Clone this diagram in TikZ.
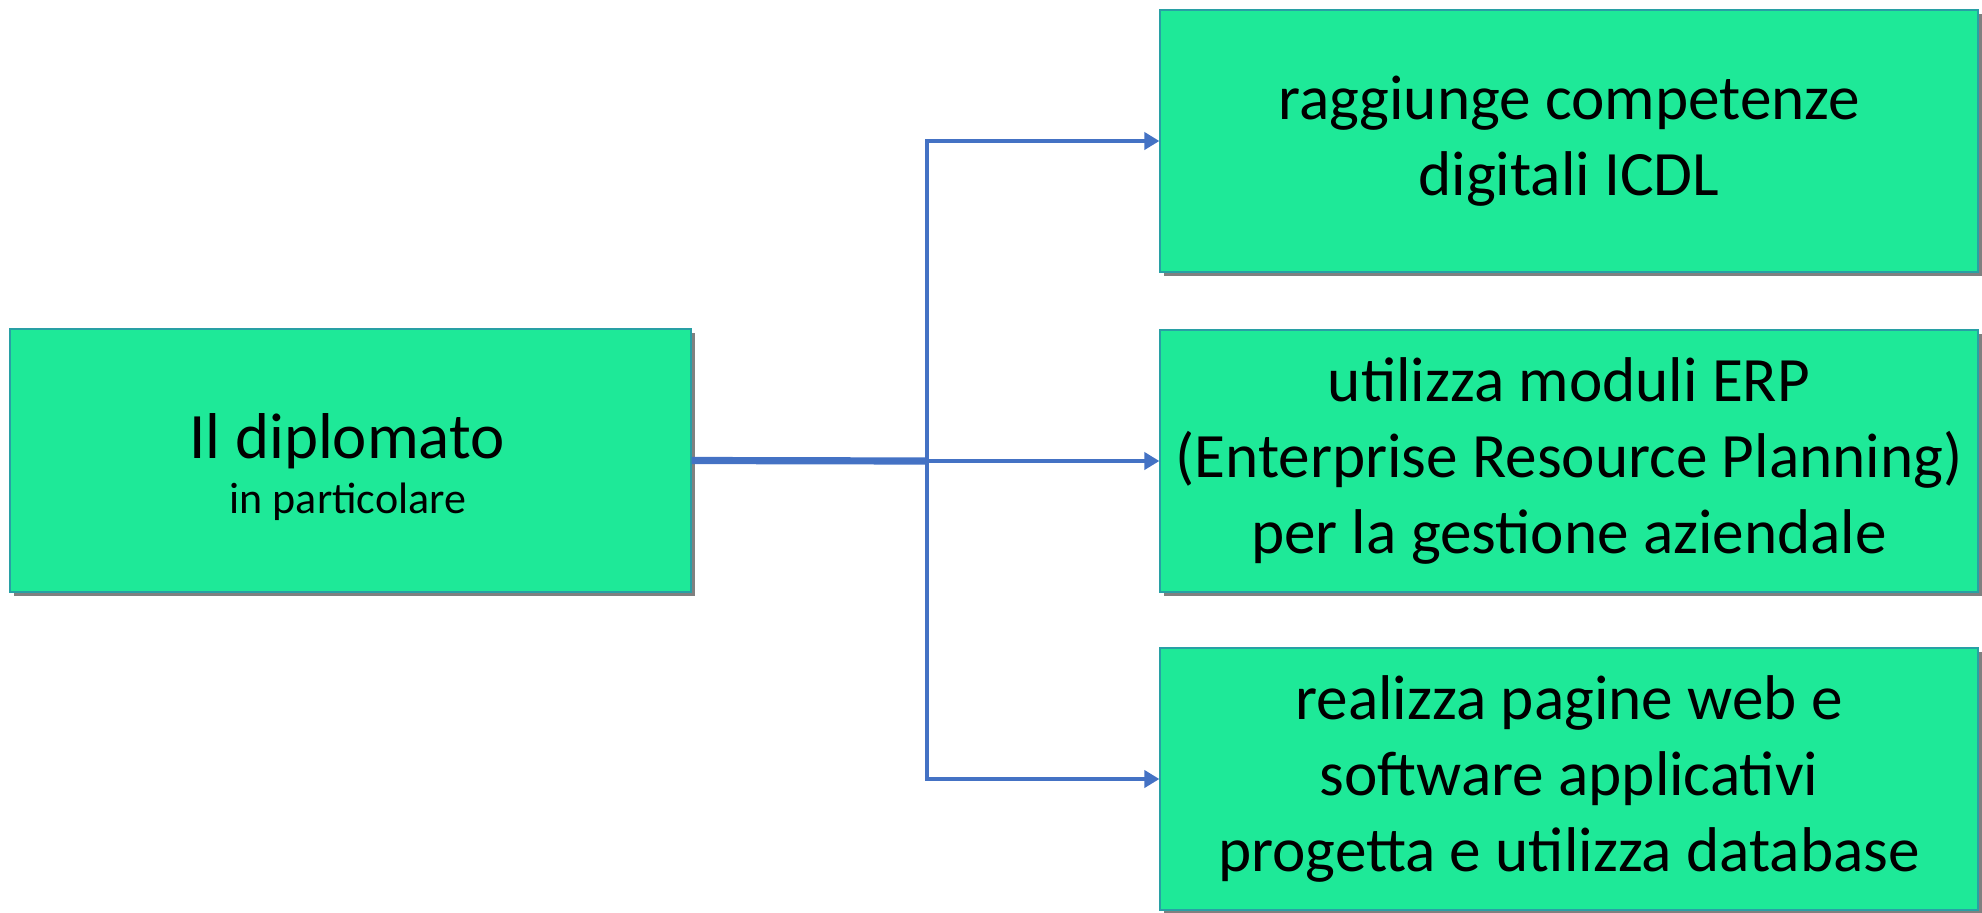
\documentclass[tikz,border=0pt]{standalone}
\usepackage{fontspec}
\setmainfont{Carlito}
\usetikzlibrary{arrows.meta}
\definecolor{boxgreen}{RGB}{30,233,152}
\definecolor{boxedge}{RGB}{40,160,165}
\definecolor{linkblue}{RGB}{68,114,196}
\tikzset{
  greenbox/.style={rectangle, fill=boxgreen, draw=boxedge, line width=0.6pt, inner sep=0pt, align=center,
    font=\fontsize{31.6}{38}\selectfont},
  shadowbox/.style={rectangle, fill=black!50, draw=none, inner sep=0pt},
  conn/.style={draw=linkblue, line width=2.2pt, line join=miter, -{Triangle[length=7.5pt,width=8.5pt]}},
  trunk/.style={draw=linkblue, line width=3.6pt},
}
\begin{document}
\begin{tikzpicture}[x=0.5pt,y=-0.5pt]
\useasboundingbox (0,0) rectangle (1982,912);
% shadows
\node[shadowbox, minimum width=340.5pt, minimum height=131.5pt] (Ls) at (354.5,464.5) {};
\node[shadowbox, minimum width=409pt, minimum height=131pt] (R1s) at (1573,145) {};
\node[shadowbox, minimum width=409pt, minimum height=131pt] (R2s) at (1573,465) {};
\node[shadowbox, minimum width=409pt, minimum height=131pt] (R3s) at (1573,783) {};
% boxes
\node[greenbox, minimum width=340.5pt, minimum height=131.5pt] (L) at (350.5,460.5) {};
\node[font=\fontsize{32.4}{38}\selectfont, inner sep=0pt, anchor=base] (Lt1) at (347,458) {Il diplomato};
\node[font=\fontsize{22}{27}\selectfont, inner sep=0pt, anchor=base] (Lt2) at (348,513) {in particolare};
\node[greenbox, minimum width=409pt, minimum height=131pt] (R1) at (1569,141) {raggiunge competenze\\digitali ICDL};
\node[greenbox, minimum width=409pt, minimum height=131pt] (R2) at (1569,461) {utilizza moduli ERP\\(Enterprise Resource Planning)\\per la gestione aziendale};
\node[greenbox, minimum width=409pt, minimum height=131pt] (R3) at (1569,779) {realizza pagine web e\\software applicativi\\progetta e utilizza database};
% connectors
\coordinate (sp) at (927,461);
\draw[trunk] (L.east) -- (sp);
\draw[conn] (sp) |- (R1.west);
\draw[conn] (sp) |- (R3.west);
\draw[conn] (sp) -- (R2.west);
\end{tikzpicture}
\end{document}
